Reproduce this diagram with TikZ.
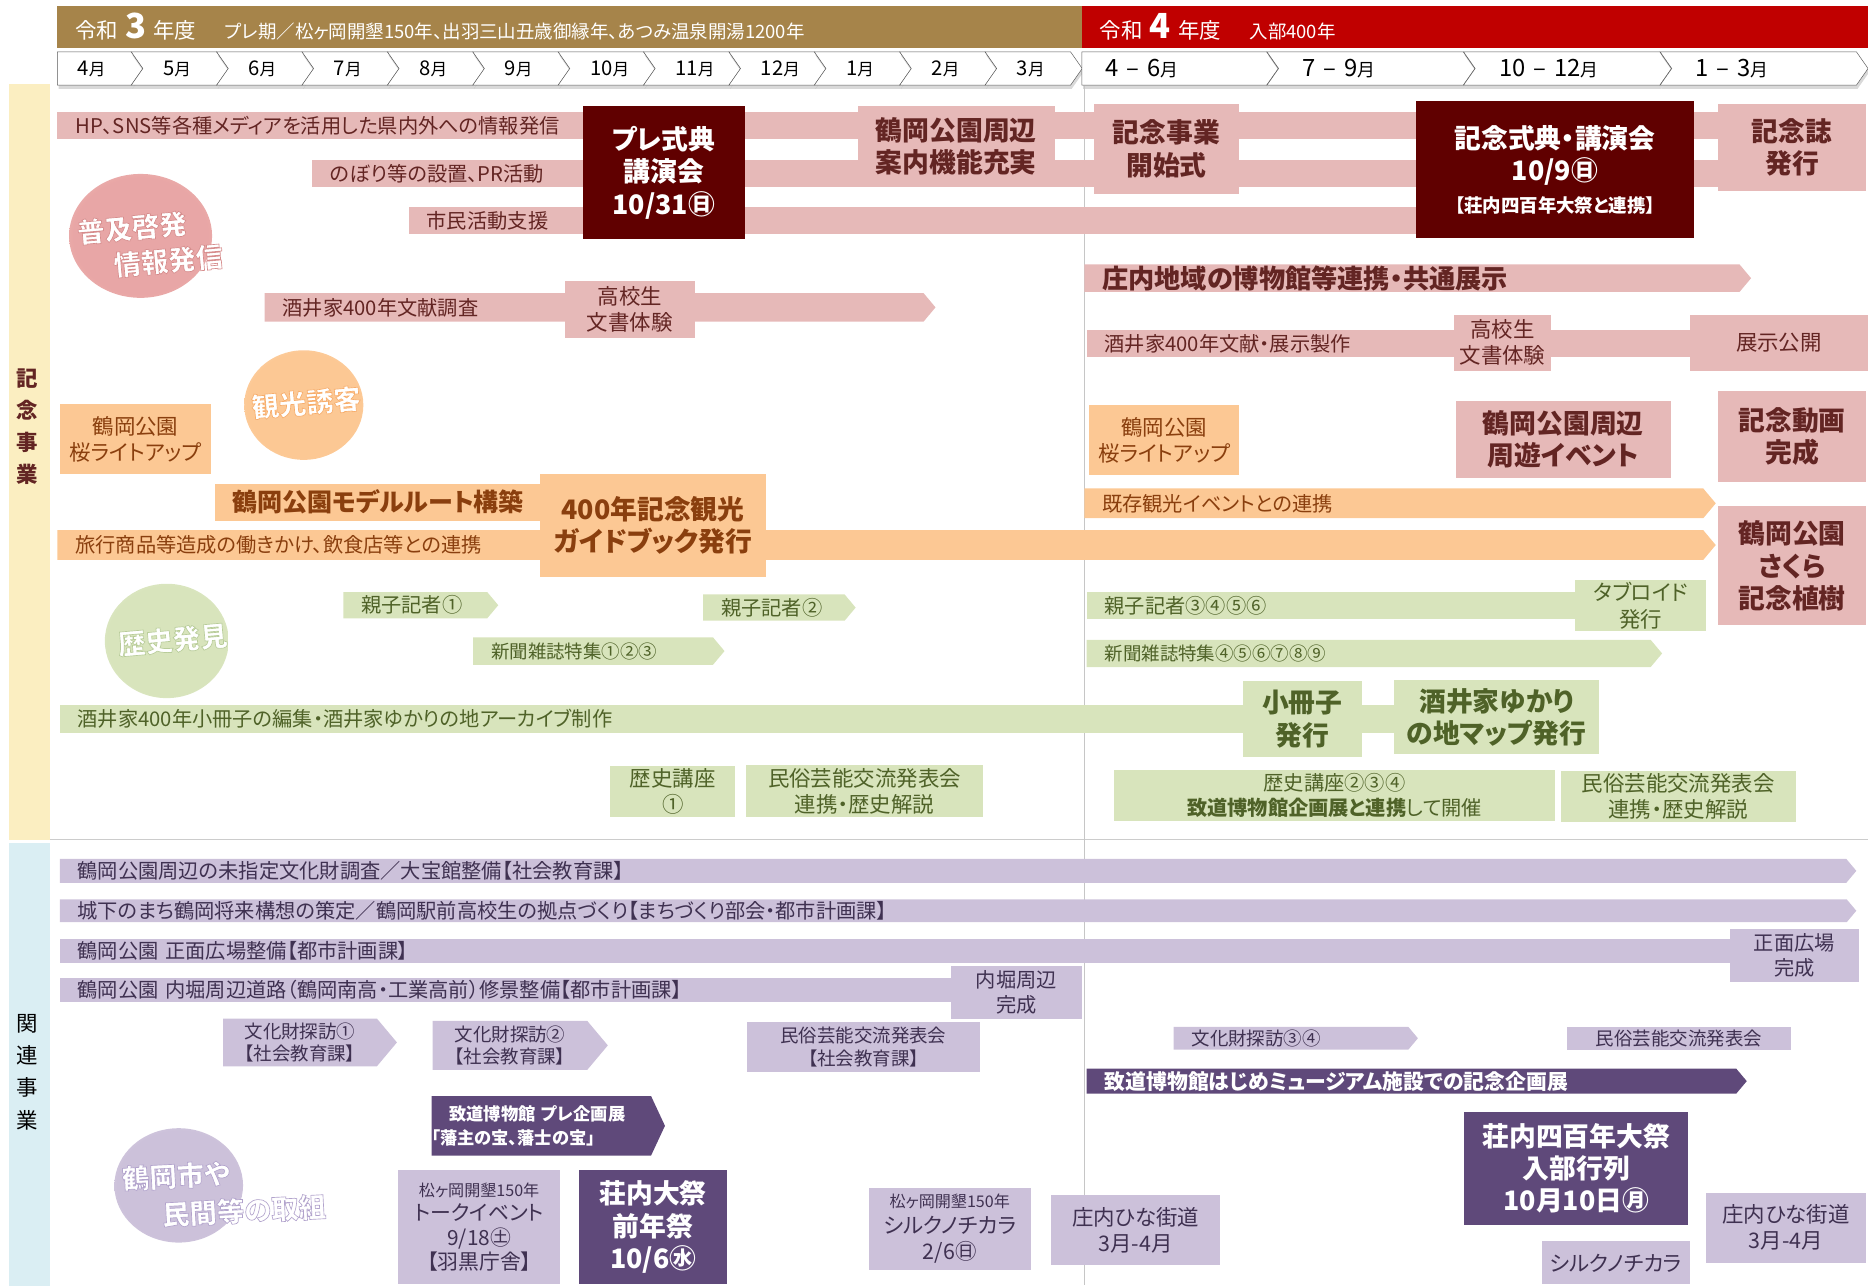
\documentclass[tikz,border=0pt]{standalone}
\usepackage{fontspec}
\setmainfont{Noto Sans CJK JP}[RawFeature={+palt}]
\usetikzlibrary{shapes.symbols, shadows}

\definecolor{hdBrown}{HTML}{A6844A}
\definecolor{hdRed}{HTML}{C00000}
\definecolor{sideYel}{HTML}{FBEEC1}
\definecolor{sideBlue}{HTML}{DAEEF3}
\definecolor{pinkc}{HTML}{E6B9B8}
\definecolor{pinkTx}{HTML}{632523}
\definecolor{maroonc}{HTML}{600000}
\definecolor{orgc}{HTML}{FCC894}
\definecolor{orgTx}{HTML}{8A3F0E}
\definecolor{grnc}{HTML}{D8E4BC}
\definecolor{grnTx}{HTML}{4F6228}
\definecolor{purc}{HTML}{CCC1DA}
\definecolor{purTx}{HTML}{3F3151}
\definecolor{purDark}{HTML}{5F497A}
\colorlet{blobc}{pinkc}

\newcommand\fn{\fontsize{17}{21}\selectfont}
\newcommand\fm{\fontsize{18}{22}\selectfont}
\newcommand\fsm{\fontsize{15.5}{19}\selectfont}
\newcommand\fb{\fontsize{22.5}{27}\selectfont\bfseries}
% white text with a thin coloured rim (stroke + fill)
\newcommand\rim[2]{\special{pdf:literal direct #1 RG 2 Tr 0.55 w}#2\special{pdf:literal direct 0 Tr}}

\pgfdeclareradialshading[blobc]{blob}{\pgfpoint{0bp}{0bp}}{color(0bp)=(blobc); color(24bp)=(blobc); color(50bp)=(white)}

\tikzstyle{gbar} = [anchor=west, inner sep=0pt, align=left, execute at begin node={\hspace*{15pt}}]
\tikzstyle{gtip} = [gbar, signal, signal to=east, signal pointer angle=100]
\tikzstyle{gbox} = [anchor=west, inner sep=0pt, align=center]
\tikzstyle{gtipbox} = [gbox, signal, signal to=east, signal pointer angle=100]
\tikzstyle{chev} = [signal, signal to=east, signal from=west, signal pointer angle=110, anchor=west, inner sep=0pt, minimum height=28, align=left, fill=white, draw=black!65, drop shadow={opacity=0.3, shadow xshift=1pt, shadow yshift=-3pt}]
\tikzstyle{month} = [chev, text width=62, font=\fontsize{17}{19}\selectfont, execute at begin node={\hspace*{17pt}}]
\tikzstyle{qtr} = [chev, text width=155, font=\fontsize{20}{22}\selectfont, execute at begin node={\hspace*{20pt}}]
\tikzstyle{pk} = [fill=pinkc, text=pinkTx, font=\fn]
\tikzstyle{mr} = [fill=maroonc, text=white, font=\fb]
\tikzstyle{og} = [fill=orgc, text=orgTx, font=\fn]
\tikzstyle{gr} = [fill=grnc, text=grnTx, font=\fn]
\tikzstyle{pu} = [fill=purc, text=purTx, font=\fn]
\tikzstyle{pd} = [fill=purDark, text=white, font=\fb]
\tikzstyle{blobtxt} = [text=white, font=\fontsize{23}{30}\selectfont\bfseries, align=left, inner sep=0pt, rotate=5]

\begin{document}
\begin{tikzpicture}[x=1pt, y=-1pt]
\useasboundingbox (0,0) rectangle (1568,1079);

% year headers and months
\node (r3) [gbar, fill=hdBrown, text=white, text width=860, minimum height=35, font=\fontsize{18}{20}\selectfont] at (48,22.5) {令和 {\fontsize{29}{29}\selectfont\bfseries 3} 年度\hspace{24pt}{\fontsize{15.5}{17}\selectfont プレ期／松ヶ岡開墾150年、出羽三山丑歳御縁年、あつみ温泉開湯1200年}};
\node (r4) [gbar, fill=hdRed, text=white, text width=660, minimum height=35, font=\fontsize{18}{20}\selectfont] at (908,22.5) {令和 {\fontsize{29}{29}\selectfont\bfseries 4} 年度\hspace{24pt}{\fontsize{15.5}{17}\selectfont 入部400年}};

\node (m0) [month, signal from=nowhere] at (48,57.5) {4{\fontsize{14}{16}\selectfont 月}};
\foreach \m [count=\i] in {5,6,7,8,9,10,11,12,1,2,3}
  \node (m\i) [month] at (48+71.67*\i,57.5) {\m{\fontsize{14}{16}\selectfont 月}};
\node (q0) [qtr, signal from=nowhere] at (908,57.5) {4 – 6{\fontsize{15}{16}\selectfont 月}};
\node (q1) [qtr] at (1073,57.5) {7 – 9{\fontsize{15}{16}\selectfont 月}};
\node (q2) [qtr] at (1238,57.5) {10 – 12{\fontsize{15}{16}\selectfont 月}};
\node (q3) [qtr] at (1403,57.5) {1 – 3{\fontsize{15}{16}\selectfont 月}};

% side labels
\node (sideK) [fill=sideYel, minimum width=35, minimum height=635, anchor=north west, inner sep=0pt] at (7,70) {};
\node (sideKt) [text=pinkTx, font=\fontsize{18}{27}\selectfont\bfseries, align=center] at (23,358) {記\\念\\事\\業};
\node (sideR) [fill=sideBlue, minimum width=35, minimum height=372, anchor=north west, inner sep=0pt] at (7,707) {};
\node (sideRt) [font=\fontsize{18}{27}\selectfont, align=center] at (23,900) {関\\連\\事\\業};
\draw[gray!40, line width=1] (42,705) -- (1568,705);
\draw[gray!45, line width=1] (910,72) -- (910,1079);

% soft theme circles
\colorlet{blobc}{pinkc!90!red}
\shade[shading=blob] (118,198) ellipse [x radius=60pt, y radius=52pt];
\colorlet{blobc}{orgc}
\shade[shading=blob] (255,340) ellipse [x radius=50pt, y radius=46pt];
\colorlet{blobc}{grnc}
\shade[shading=blob] (140,538) ellipse [x radius=52pt, y radius=48pt];
\colorlet{blobc}{purc}
\shade[shading=blob] (150,995) ellipse [x radius=54pt, y radius=48pt];
\node (fukyu) [blobtxt] at (126,205) {\rim{0.84 0.55 0.55}{普及啓発}\\\hspace*{28pt}\rim{0.84 0.55 0.55}{情報発信}};
\node (kanko) [blobtxt] at (257,338) {\rim{0.97 0.68 0.42}{観光誘客}};
\node (rekishi) [blobtxt] at (145,537) {\rim{0.72 0.80 0.60}{歴史発見}};
\node (minkan) [blobtxt, rotate=-2, font=\fontsize{23}{32}\selectfont\bfseries] at (188,1001) {\rim{0.70 0.64 0.80}{鶴岡市や}\\\hspace*{32pt}\rim{0.70 0.64 0.80}{民間等の取組}};

% 普及啓発・情報発信
\node (hp) [gbar, pk, text width=1394, minimum height=23] at (48,105.5) {HP、SNS等各種メディアを活用した県内外への情報発信};
\node (nobori) [gbar, pk, text width=1180, minimum height=23] at (262,145.5) {のぼり等の設置、PR活動};
\node (shimin) [gbar, pk, text width=845, minimum height=22] at (343,185) {市民活動支援};
\node (pre) [gbox, mr, minimum width=136, minimum height=112] at (489,145) {プレ式典\\講演会\\10/31㊐};
\node (annai) [gbox, pk, font=\fb, minimum width=165, minimum height=68] at (720,123) {鶴岡公園周辺\\案内機能充実};
\node (kaishi) [gbox, pk, font=\fb, minimum width=122, minimum height=76] at (918,125) {記念事業\\開始式};
\node (shiten) [gbox, mr, minimum width=234, minimum height=115] at (1188,142.5) {記念式典・講演会\\10/9㊐\\\fontsize{15.5}{20}\selectfont 【荘内四百年大祭と連携】};
\node (kinenshi) [gbox, pk, font=\fb, minimum width=124, minimum height=73] at (1442,123.5) {記念誌\\発行};
\node (bunken) [gtip, pk, text width=553, minimum height=24] at (222,258) {酒井家400年文献調査};
\node (kokosei1) [gbox, pk, font=\fm, minimum width=109, minimum height=48] at (474,260) {高校生\\文書体験};
\node (kyotsu) [gtip, pk, font=\fontsize{22}{24}\selectfont\bfseries, text width=550, minimum height=23] at (910,233.5) {庄内地域の博物館等連携・共通展示};
\node (tenji) [gbar, pk, text width=506, minimum height=23] at (912,288.5) {酒井家400年文献・展示製作};
\node (kokosei2) [gbox, pk, font=\fm, minimum width=82, minimum height=47] at (1220,287.5) {高校生\\文書体験};
\node (kokai) [gbox, pk, font=\fm, minimum width=150, minimum height=47] at (1418,287.5) {展示公開};

% 観光誘客
\node (sakura1) [gbox, og, font=\fm, minimum width=127, minimum height=59] at (50,368.5) {鶴岡公園\\桜ライトアップ};
\node (route) [gbar, og, font=\fontsize{21}{24}\selectfont\bfseries, text width=273, minimum height=31] at (180,421.5) {鶴岡公園モデルルート構築};
\node (ryoko) [gtip, og, text width=1381.5, minimum height=25] at (48,457.5) {旅行商品等造成の働きかけ、飲食店等との連携};
\node (guide) [gbox, og, font=\fb, minimum width=190, minimum height=86] at (453,441) {400年記念観光\\ガイドブック発行};
\node (sakura2) [gbox, og, font=\fm, minimum width=126, minimum height=59] at (914,369.5) {鶴岡公園\\桜ライトアップ};
\node (kizon) [gtip, og, text width=519.5, minimum height=25] at (910,422.5) {既存観光イベントとの連携};
\node (shuyu) [gbox, pk, font=\fb, minimum width=180, minimum height=64] at (1222,369) {鶴岡公園周辺\\周遊イベント};
\node (doga) [gbox, pk, font=\fb, minimum width=124, minimum height=77] at (1442,366.5) {記念動画\\完成};
\node (shokuju) [gbox, pk, font=\fb, minimum width=124, minimum height=100] at (1442,475) {鶴岡公園\\さくら\\記念植樹};

% 歴史発見
\node (oyako1) [gtip, gr, text width=120.8, minimum height=22] at (288,508) {親子記者①};
\node (oyako2) [gtip, gr, text width=118.8, minimum height=22] at (590,510) {親子記者②};
\node (shinbun1) [gtip, gr, font=\fsm, text width=201.3, minimum height=23] at (397,546.5) {新聞雑誌特集①②③};
\node (sasshi) [gbar, gr, text width=1120, minimum height=23] at (50,603.5) {酒井家400年小冊子の編集・酒井家ゆかりの地アーカイブ制作};
\node (sasshiH) [gbox, gr, font=\fb, minimum width=100, minimum height=63] at (1043,603.5) {小冊子\\発行};
\node (yukari) [gbox, gr, font=\fb, minimum width=172, minimum height=62] at (1170,602) {酒井家ゆかり\\の地マップ発行};
\node (koza1) [gbox, gr, font=\fm, minimum width=105, minimum height=43] at (512,664.5) {歴史講座\\①};
\node (minzoku1) [gbox, gr, font=\fm, minimum width=199, minimum height=44] at (626,664) {民俗芸能交流発表会\\連携・歴史解説};
\node (oyako3) [gbar, gr, text width=410, minimum height=23] at (912,508.5) {親子記者③④⑤⑥};
\node (tabloid) [gbox, gr, font=\fm, minimum width=110, minimum height=43] at (1322,508.5) {タブロイド\\発行};
\node (shinbun2) [gtip, gr, font=\fsm, text width=473.3, minimum height=23] at (912,548.5) {新聞雑誌特集④⑤⑥⑦⑧⑨};
\node (koza2) [gbox, gr, minimum width=370, minimum height=43] at (935,667.5) {歴史講座②③④\\\textbf{致道博物館企画展と連携}して開催};
\node (minzoku2) [gbox, gr, font=\fm, minimum width=197, minimum height=43] at (1310,668.5) {民俗芸能交流発表会\\連携・歴史解説};

% 関連事業
\node (mishitei) [gtip, pu, text width=1499.6, minimum height=20] at (50,731) {鶴岡公園周辺の未指定文化財調査／大宝館整備【社会教育課】};
\node (shorai) [gtip, pu, text width=1500, minimum height=19] at (50,764.5) {城下のまち鶴岡将来構想の策定／鶴岡駅前高校生の拠点づくり【まちづくり部会・都市計画課】};
\node (hiroba) [gbar, pu, text width=1402, minimum height=20] at (50,798) {鶴岡公園 正面広場整備【都市計画課】};
\node (hirobaK) [gbox, pu, minimum width=108, minimum height=44] at (1452,802) {正面広場\\完成};
\node (uchibori) [gbar, pu, text width=748, minimum height=20] at (50,831) {鶴岡公園 内堀周辺道路（鶴岡南高・工業高前）修景整備【都市計画課】};
\node (uchiboriK) [gbox, pu, minimum width=110, minimum height=44] at (798,833) {内堀周辺\\完成};
\node (tanbo1) [gtipbox, pu, font=\fsm, text width=129.2, minimum height=40] at (187,875) {文化財探訪①\\【社会教育課】};
\node (tanbo2) [gtipbox, pu, font=\fsm, text width=129.8, minimum height=41] at (363,877.5) {文化財探訪②\\【社会教育課】};
\node (minzoku3) [gbox, pu, font=\fsm, minimum width=195, minimum height=42] at (627,879) {民俗芸能交流発表会\\【社会教育課】};
\node (tanbo3) [gtip, pu, font=\fsm, text width=197, minimum height=19] at (985,871.5) {文化財探訪③④};
\node (minzoku4) [gbox, pu, font=\fsm, minimum width=188, minimum height=19] at (1315,871.5) {民俗芸能交流発表会};
\node (museum) [gtip, pd, font=\fontsize{17.5}{20}\selectfont\bfseries, text width=545.2, minimum height=21] at (912,907.5) {致道博物館はじめミュージアム施設での記念企画展};
\node (preexh) [gtip, pd, signal pointer angle=130, font=\fontsize{14.5}{20}\selectfont\bfseries, text width=184.3, minimum height=50] at (362,945) {致道博物館 プレ企画展\\「藩主の宝、藩士の宝」};
\node (talk) [gbox, pu, font=\fontsize{17.5}{20.5}\selectfont, minimum width=136, minimum height=96] at (334,1030) {{\fontsize{13.5}{14}\selectfont 松ヶ岡開墾150年}\\トークイベント\\9/18㊏\\【羽黒庁舎】};
\node (zennen) [gbox, pd, minimum width=124, minimum height=96] at (486,1030) {荘内大祭\\前年祭\\10/6㊌};
\node (silk1) [gbox, pu, font=\fm, minimum width=136, minimum height=69] at (729,1031.5) {{\fontsize{13.5}{14}\selectfont 松ヶ岡開墾150年}\\シルクノチカラ\\2/6㊐};
\node (hina1) [gbox, pu, font=\fm, minimum width=142, minimum height=59] at (882,1032.5) {庄内ひな街道\\3月-4月};
\node (nyubu) [gbox, pd, minimum width=188, minimum height=95] at (1229,980.5) {荘内四百年大祭\\入部行列\\10月10日㊊};
\node (silk2) [gbox, pu, font=\fm, minimum width=124, minimum height=36] at (1294,1060) {シルクノチカラ};
\node (hina2) [gbox, pu, font=\fm, minimum width=134, minimum height=59] at (1432,1030.5) {庄内ひな街道\\3月-4月};
\end{tikzpicture}
\end{document}
